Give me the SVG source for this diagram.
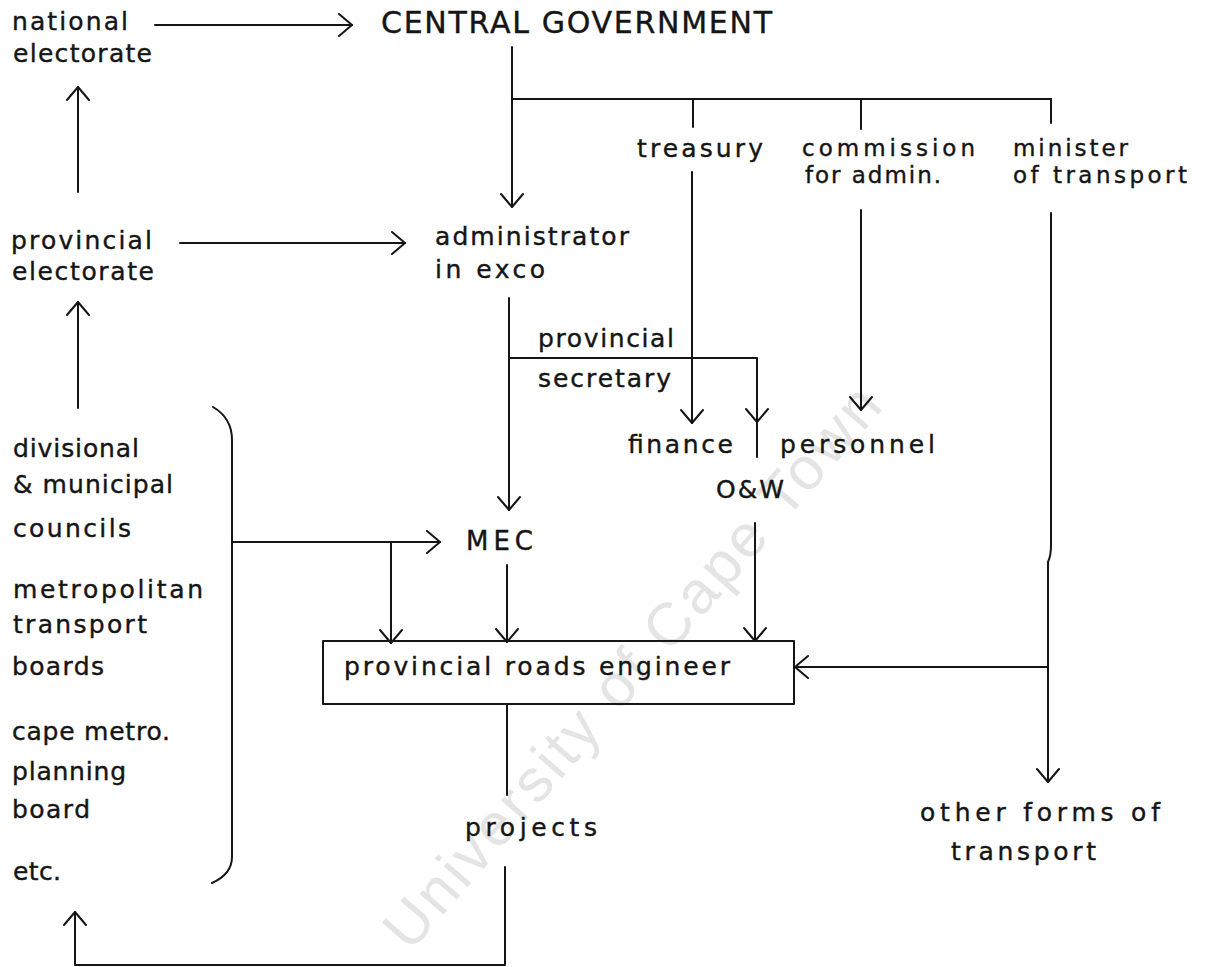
<svg xmlns="http://www.w3.org/2000/svg" width="1209" height="967" viewBox="0 0 1209 967">
  <style>
    .t { font-family: "DejaVu Sans", "Liberation Sans", sans-serif; font-size: 25px; fill: #151515; stroke: #151515; stroke-width: 0.4; }
    .sm { font-size: 23px; }
    .big { font-size: 30px; }
    .mec { font-size: 26px; }
    .ln { fill: none; stroke: #151515; stroke-width: 2; stroke-linecap: round; stroke-linejoin: round; }
    .wm { font-family: "Liberation Sans", sans-serif; font-size: 60px; fill: #e4e4e4; letter-spacing: 3.5px; }
  </style>
  <defs>
    <marker id="ah" viewBox="0 0 16 24" refX="15" refY="12" markerWidth="16" markerHeight="24" orient="auto" markerUnits="userSpaceOnUse">
      <path d="M2,1 L15,12 L2,23" fill="none" stroke="#151515" stroke-width="2" stroke-linecap="round" stroke-linejoin="round"/>
    </marker>
  </defs>
  <rect width="1209" height="967" fill="#ffffff"/>

  <!-- watermark -->
  <text class="wm" transform="translate(395,940) rotate(-49)" x="0" y="20">University of Cape Town</text>

  <!-- connectors -->
  <g id="connectors" class="ln">
    <path d="M155,25 H352" marker-end="url(#ah)"/>
    <path d="M78,192 V87" marker-end="url(#ah)"/>
    <path d="M512,47 V207" marker-end="url(#ah)"/>
    <path d="M512,99 H1051"/>
    <path d="M693,99 V127"/>
    <path d="M861,99 V129"/>
    <path d="M1051,99 V123"/>
    <path d="M692,172 V423" marker-end="url(#ah)"/>
    <path d="M861,210 V410" marker-end="url(#ah)"/>
    <path d="M1051,213 V545 Q1051,556 1048,562 V782" marker-end="url(#ah)"/>
    <path d="M1048,667 H795" marker-end="url(#ah)"/>
    <path d="M180,243 H405" marker-end="url(#ah)"/>
    <path d="M509,298 V510" marker-end="url(#ah)"/>
    <path d="M509,358 H757 V422" marker-end="url(#ah)"/>
    <path d="M757,422 V457"/>
    <path d="M78,408 V302" marker-end="url(#ah)"/>
    <path d="M213,407 Q232,418 232,440 V857 Q232,874 212,883"/>
    <path d="M232,542 H440" marker-end="url(#ah)"/>
    <path d="M391,542 V643" marker-end="url(#ah)"/>
    <path d="M507,565 V642" marker-end="url(#ah)"/>
    <path d="M755,523 V641" marker-end="url(#ah)"/>
    <path d="M507,704 V795"/>
    <path d="M505,867 V965 H75 V912" marker-end="url(#ah)"/>
  </g>

  <g id="national-electorate">
    <text class="t" x="12" y="30" textLength="116" lengthAdjust="spacing">national</text>
    <text class="t" x="13" y="62" textLength="139" lengthAdjust="spacing">electorate</text>
  </g>
  <g id="central-government">
    <text class="t big" x="381" y="33" textLength="391" lengthAdjust="spacing">CENTRAL GOVERNMENT</text>
  </g>
  <g id="treasury">
    <text class="t" x="637" y="157" textLength="126" lengthAdjust="spacing">treasury</text>
  </g>
  <g id="commission">
    <text class="t sm" x="802" y="156" textLength="173" lengthAdjust="spacing">commission</text>
    <text class="t sm" x="805" y="183" textLength="136" lengthAdjust="spacing">for admin.</text>
  </g>
  <g id="minister">
    <text class="t sm" x="1013" y="156" textLength="115" lengthAdjust="spacing">minister</text>
    <text class="t sm" x="1013" y="183" textLength="174" lengthAdjust="spacing">of transport</text>
  </g>
  <g id="provincial-electorate">
    <text class="t" x="11" y="249" textLength="141" lengthAdjust="spacing">provincial</text>
    <text class="t" x="12" y="280" textLength="142" lengthAdjust="spacing">electorate</text>
  </g>
  <g id="administrator">
    <text class="t" x="435" y="245" textLength="194" lengthAdjust="spacing">administrator</text>
    <text class="t" x="435" y="278" textLength="110" lengthAdjust="spacing">in exco</text>
  </g>
  <g id="provincial-secretary">
    <text class="t" x="538" y="347" textLength="136" lengthAdjust="spacing">provincial</text>
    <text class="t" x="538" y="387" textLength="133" lengthAdjust="spacing">secretary</text>
  </g>
  <g id="finance">
    <text class="t" x="628" y="453" textLength="105" lengthAdjust="spacing">finance</text>
  </g>
  <g id="personnel">
    <text class="t" x="780" y="453" textLength="155" lengthAdjust="spacing">personnel</text>
  </g>
  <g id="ow">
    <text class="t" x="716" y="498" textLength="68" lengthAdjust="spacing">O&amp;W</text>
  </g>
  <g id="local-bodies">
    <text class="t" x="13" y="457" textLength="126" lengthAdjust="spacing">divisional</text>
    <text class="t" x="13" y="493" textLength="160" lengthAdjust="spacing">&amp; municipal</text>
    <text class="t" x="13" y="537" textLength="118" lengthAdjust="spacing">councils</text>
    <text class="t" x="13" y="598" textLength="190" lengthAdjust="spacing">metropolitan</text>
    <text class="t" x="13" y="633" textLength="134" lengthAdjust="spacing">transport</text>
    <text class="t" x="12" y="675" textLength="92" lengthAdjust="spacing">boards</text>
    <text class="t" x="12" y="740" textLength="158" lengthAdjust="spacing">cape metro.</text>
    <text class="t" x="12" y="780" textLength="114" lengthAdjust="spacing">planning</text>
    <text class="t" x="12" y="818" textLength="78" lengthAdjust="spacing">board</text>
    <text class="t" x="13" y="880" textLength="48" lengthAdjust="spacing">etc.</text>
  </g>
  <g id="mec">
    <text class="t mec" x="466" y="550" textLength="67" lengthAdjust="spacing">MEC</text>
  </g>
  <g id="provincial-roads-engineer">
    <rect x="323" y="641" width="471" height="63" class="ln"/>
    <text class="t" x="344" y="675" textLength="386" lengthAdjust="spacing">provincial roads engineer</text>
  </g>
  <g id="projects">
    <text class="t" x="465" y="836" textLength="132" lengthAdjust="spacing">projects</text>
  </g>
  <g id="other-transport">
    <text class="t" x="920" y="821" textLength="240" lengthAdjust="spacing">other forms of</text>
    <text class="t" x="951" y="860" textLength="145" lengthAdjust="spacing">transport</text>
  </g>
</svg>
